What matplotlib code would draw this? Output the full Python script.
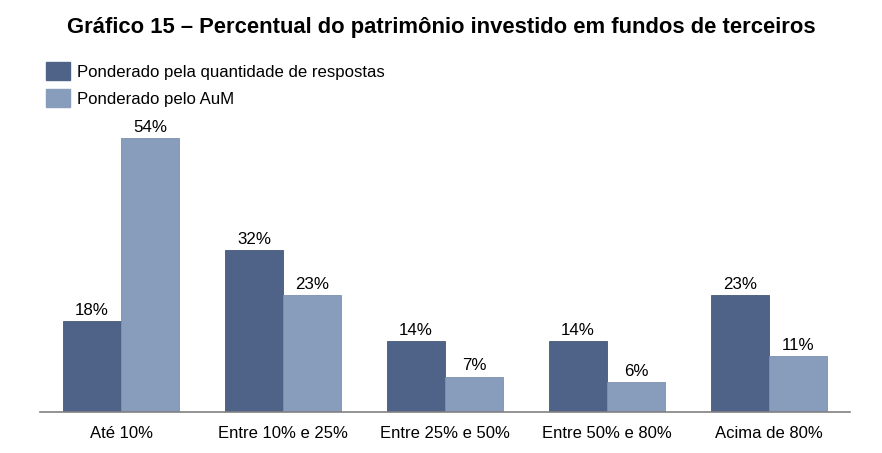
import matplotlib
matplotlib.use("Agg")
import matplotlib.pyplot as plt
import numpy as np
from matplotlib.patches import Patch

plt.rcParams['font.family'] = ['Liberation Sans', 'DejaVu Sans']

categories = ["Até 10%", "Entre 10% e 25%", "Entre 25% e 50%", "Entre 50% e 80%", "Acima de 80%"]
series_names = ["Ponderado pela quantidade de respostas", "Ponderado pelo AuM"]
resp_values = [18, 32, 14, 14, 23]
aum_values = [54, 23, 7, 6, 11]
title = "Gráfico 15 – Percentual do patrimônio investido em fundos de terceiros"

dark = "#4f6389"
light = "#889cbc"

fig = plt.figure(figsize=(8.82, 4.53), dpi=100)
ax = fig.add_axes([40/882, 41/453, 810/882, 300/453])

x = np.arange(len(categories))
w = 0.358
b1 = ax.bar(x - w/2, resp_values, w, color=dark, edgecolor="#46587a", linewidth=0.6)
b2 = ax.bar(x + w/2, aum_values, w, color=light, edgecolor="#7d90b0", linewidth=0.6)

for bars, vals in ((b1, resp_values), (b2, aum_values)):
    for r, v in zip(bars, vals):
        ax.text(r.get_x() + r.get_width()/2, v + 0.6, f"{v}%", ha="center", va="bottom", fontsize=12.2, color="black")

ax.set_xlim(-0.5, 4.5)
ax.set_ylim(0, 59.2)
ax.set_xticks(x)
ax.set_xticklabels(categories, fontsize=12)
ax.tick_params(axis='x', length=0, pad=10)
ax.set_yticks([])
for s in ("top", "right", "left"):
    ax.spines[s].set_visible(False)
ax.spines["bottom"].set_color("#808080")
ax.spines["bottom"].set_linewidth(1.2)

fig.text(0.5, 1 - 28/453, title, ha="center", va="center", fontsize=15.8, fontweight="bold")

handles = [Patch(facecolor=dark, edgecolor=dark), Patch(facecolor=light, edgecolor=light)]
fig.legend(handles, series_names, loc="upper left", bbox_to_anchor=(46/882, 1 - 62/453),
           frameon=False, fontsize=12.1, handlelength=1.4, handleheight=1.3, handletextpad=0.45,
           labelspacing=0.5, borderaxespad=0, borderpad=0)

fig.savefig("out.png", dpi=100)
